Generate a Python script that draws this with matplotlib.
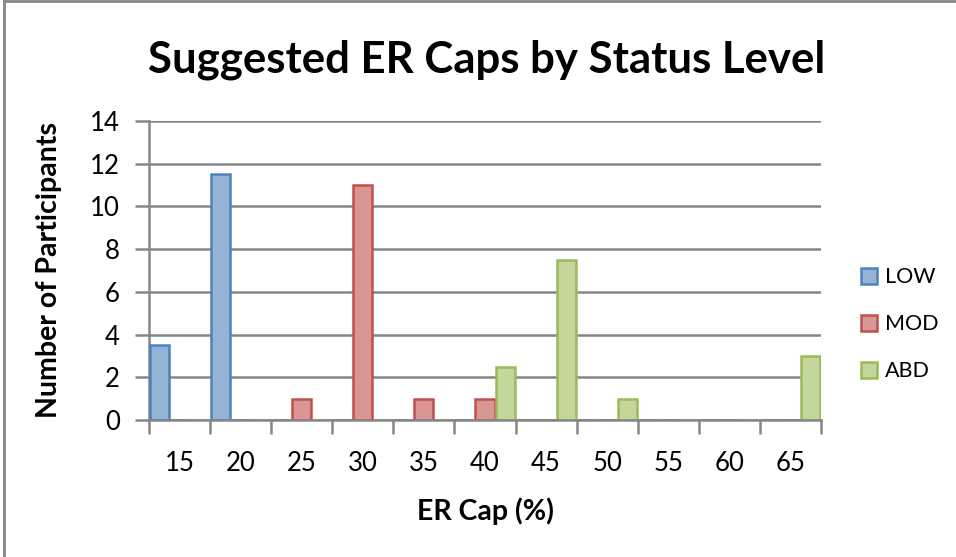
import numpy as np
import matplotlib.pyplot as plt
from matplotlib.lines import Line2D

# Data
caps = ['15', '20', '25', '30', '35', '40', '45', '50', '55', '60', '65']
low = [3.5, 11.5, 0, 0, 0, 0, 0, 0, 0, 0, 0]
mod = [0, 0, 1, 11, 1, 1, 0, 0, 0, 0, 0]
abd = [0, 0, 0, 0, 0, 2.5, 7.5, 1, 0, 0, 3]

plt.rcParams['font.family'] = ['Lato', 'DejaVu Sans']

fig = plt.figure(figsize=(9.56, 5.57), dpi=100)
ax = fig.add_axes([149/956, 1 - 420/557, 672/956, 299/557])

x = np.arange(len(caps))
w = 1/3
series = [('LOW', low, '#95B3D7', '#4F81BD', -w),
          ('MOD', mod, '#D99694', '#C0504D', 0),
          ('ABD', abd, '#C3D69B', '#9BBB59', w)]
for name, vals, fc, ec, off in series:
    ax.bar(x + off, vals, width=w - 0.02, color=fc, edgecolor=ec, linewidth=1.8,
           label=name, zorder=3)

ax.set_xlim(-0.5, len(caps) - 0.5)
ax.set_ylim(0, 14)
ax.set_yticks(range(0, 15, 2))
ax.set_xticks(x)
ax.set_xticklabels(caps)
ax.set_xticks(np.arange(-0.5, len(caps)), minor=True)
ax.tick_params(axis='x', which='major', length=0, pad=22, labelsize=18.5)
ax.tick_params(axis='x', which='minor', length=10, width=1.8, color='#868686')
ax.tick_params(axis='y', length=10, width=1.8, color='#868686', labelsize=18.5, pad=11)
ax.grid(axis='y', color='#868686', linewidth=1.8, zorder=0)
for s in ['top', 'right']:
    ax.spines[s].set_visible(False)
for s in ['left', 'bottom']:
    ax.spines[s].set_color('#868686')
    ax.spines[s].set_linewidth(1.8)
ax.spines['bottom'].set_zorder(4)

ax.set_xlabel('ER Cap (%)', fontsize=20.5, fontweight='bold', labelpad=16)
ax.set_ylabel('Number of Participants', fontsize=20.5, fontweight='bold', labelpad=20)
fig.text(487/956, 1 - 60/557, 'Suggested ER Caps by Status Level', fontsize=31.5,
         fontweight='bold', ha='center', va='center')

ax.legend(loc='center left', bbox_to_anchor=(1.03, 0.32), frameon=False,
          fontsize=15.5, handlelength=0.75, handleheight=0.75, labelspacing=1.25,
          handletextpad=0.4)

# chart border
fig.add_artist(Line2D([4/956, 4/956], [0, 1 - 1/557], color='#868686', linewidth=2))
fig.add_artist(Line2D([4/956, 1], [1 - 1/557, 1 - 1/557], color='#868686', linewidth=2))

fig.savefig('out.png', dpi=100)
